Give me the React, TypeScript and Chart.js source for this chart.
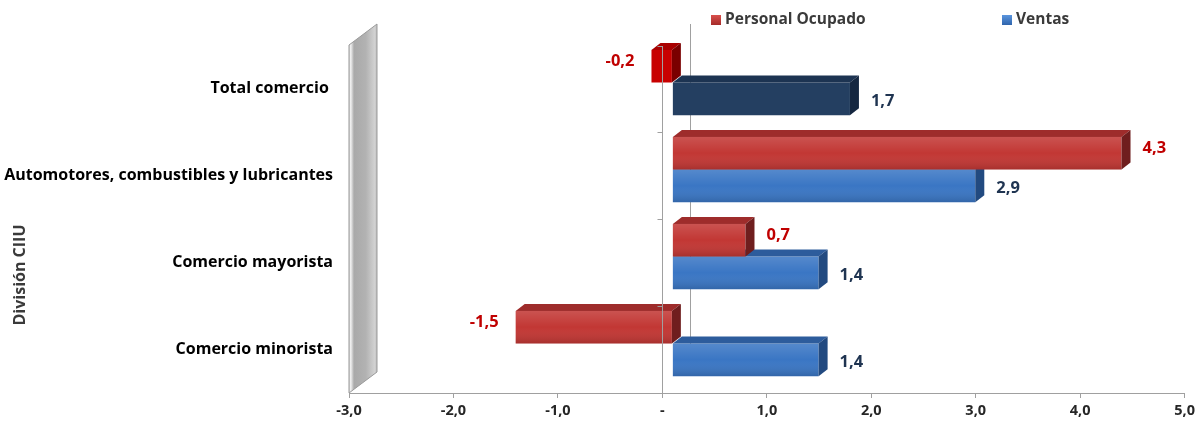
import React, { useEffect, useRef } from 'react';
import { Chart, registerables } from 'chart.js';

Chart.register(...registerables);

const categories = ['Total comercio ', 'Automotores, combustibles y lubricantes', 'Comercio mayorista', 'Comercio minorista'];
const seriesNames = ['Personal Ocupado', 'Ventas'];
const personalOcupado = [-0.2, 4.3, 0.7, -1.5];
const ventas = [1.7, 2.9, 1.4, 1.4];
const xTickValues = [-3, -2, -1, 0, 1, 2, 3, 4, 5];
const axisTitle = 'División CIIU';

const FONT = '"Open Sans", Lato, sans-serif';
const DX = 9;
const DY = -7;
const SHIFT_X = 10;
const SHIFT_Y = -6;

const palette = [
  {
    totalFront: '#C80000', totalTop: '#A80000', totalSide: '#7A0000',
    front: '#C23734', top: '#9E2C2B', side: '#6F1E1E', label: '#C00000', legendA: '#D9504C', legendB: '#A52B2A', labelDy: -5,
  },
  {
    totalFront: '#243F61', totalTop: '#1D3452', totalSide: '#152740',
    front: '#3A76C4', top: '#2D5C9C', side: '#224A80', label: '#1F3451', legendA: '#5A95DE', legendB: '#2F64AC', labelDy: 2,
  },
];

const fmt = (v: number) => (v === 0 ? '-' : v.toFixed(1).replace('.', ','));

function barGeom(el: any) {
  const p = el.getProps(['x', 'y', 'base', 'height'], true);
  const left = Math.min(p.x, p.base);
  const right = Math.max(p.x, p.base);
  const top = p.y - p.height / 2;
  const bottom = p.y + p.height / 2;
  return { left, right, top, bottom, cy: p.y, neg: p.x < p.base };
}

const bar3d = {
  id: 'bar3d',
  beforeDatasetsDraw(chart: any) {
    const { ctx, chartArea } = chart;
    const xs = chart.scales.x;
    const zero = xs.getPixelForValue(0);
    // side wall
    const wl = chartArea.left;
    const wdx = 28;
    const wdy = -21;
    ctx.save();
    const g = ctx.createLinearGradient(wl, 0, wl + wdx, 0);
    g.addColorStop(0, '#d0d0d0');
    g.addColorStop(0.06, '#f2f2f2');
    g.addColorStop(0.18, '#a9a9a9');
    g.addColorStop(0.6, '#b2b2b2');
    g.addColorStop(0.92, '#d2d2d2');
    g.addColorStop(1, '#bdbdbd');
    ctx.fillStyle = g;
    ctx.strokeStyle = '#999999';
    ctx.lineWidth = 1;
    ctx.beginPath();
    ctx.moveTo(wl, chartArea.top);
    ctx.lineTo(wl + wdx, chartArea.top + wdy);
    ctx.lineTo(wl + wdx, chartArea.bottom + wdy);
    ctx.lineTo(wl, chartArea.bottom);
    ctx.closePath();
    ctx.fill();
    ctx.stroke();
    // back zero line
    ctx.strokeStyle = '#a0a0a0';
    ctx.beginPath();
    ctx.moveTo(Math.round(zero + wdx) + 0.5, chartArea.top + wdy);
    ctx.lineTo(Math.round(zero + wdx) + 0.5, chartArea.bottom + wdy);
    ctx.stroke();
    ctx.restore();

    ctx.save();
    ctx.translate(SHIFT_X, SHIFT_Y);
  },
  afterDatasetDraw(chart: any, args: any) {
    const { ctx } = chart;
    const meta = args.meta;
    const pal = palette[args.index];
    meta.data.forEach((el: any, i: number) => {
      const b = barGeom(el);
      const isTotal = i === 0;
      // top face
      ctx.fillStyle = isTotal ? pal.totalTop : pal.top;
      ctx.beginPath();
      ctx.moveTo(b.left, b.top);
      ctx.lineTo(b.left + DX, b.top + DY);
      ctx.lineTo(b.right + DX, b.top + DY);
      ctx.lineTo(b.right, b.top);
      ctx.closePath();
      ctx.fill();
      // side face
      ctx.fillStyle = isTotal ? pal.totalSide : pal.side;
      ctx.beginPath();
      ctx.moveTo(b.right, b.top);
      ctx.lineTo(b.right + DX, b.top + DY);
      ctx.lineTo(b.right + DX, b.bottom + DY);
      ctx.lineTo(b.right, b.bottom);
      ctx.closePath();
      ctx.fill();
      // front shading
      if (!isTotal) {
        const gr = ctx.createLinearGradient(0, b.top, 0, b.bottom);
        gr.addColorStop(0, 'rgba(255,255,255,0.14)');
        gr.addColorStop(0.5, 'rgba(255,255,255,0)');
        gr.addColorStop(1, 'rgba(0,0,0,0.14)');
        ctx.fillStyle = gr;
        ctx.fillRect(b.left, b.top, b.right - b.left, b.bottom - b.top);
      }
    });
  },
  afterDatasetsDraw(chart: any) {
    const { ctx, chartArea } = chart;
    // value labels
    ctx.font = `bold 16.5px ${FONT}`;
    ctx.textBaseline = 'middle';
    chart.data.datasets.forEach((ds: any, di: number) => {
      const meta = chart.getDatasetMeta(di);
      meta.data.forEach((el: any, i: number) => {
        const b = barGeom(el);
        const v = ds.data[i];
        ctx.fillStyle = palette[di].label;
        const ly = b.cy + palette[di].labelDy;
        if (v < 0) {
          ctx.textAlign = 'right';
          ctx.fillText(fmt(v), b.left - 17, ly);
        } else {
          ctx.textAlign = 'left';
          ctx.fillText(fmt(v), b.right + DX + 12, ly);
        }
      });
    });
    ctx.restore();

    // front zero axis line and category ticks
    const xs = chart.scales.x;
    const ys = chart.scales.y;
    const zero = Math.round(xs.getPixelForValue(0)) + 0.5;
    ctx.save();
    ctx.strokeStyle = '#a0a0a0';
    ctx.lineWidth = 1;
    ctx.beginPath();
    ctx.moveTo(zero, chartArea.top + 1);
    ctx.lineTo(zero, chartArea.bottom);
    const n = chart.data.labels.length;
    for (let k = 0; k < n; k++) {
      const yb = Math.round(ys.getPixelForValue(k) - (chartArea.bottom - chartArea.top) / n / 2) + 0.5;
      ctx.moveTo(zero - 5, yb + (k === 0 ? 1 : 0));
      ctx.lineTo(zero, yb + (k === 0 ? 1 : 0));
    }
    ctx.stroke();
    ctx.restore();
  },
  afterDraw(chart: any) {
    const { ctx } = chart;
    ctx.save();
    // legend
    const legendPos = [711, 1002];
    ctx.font = `bold 15.5px ${FONT}`;
    ctx.textBaseline = 'middle';
    ctx.textAlign = 'left';
    chart.data.datasets.forEach((ds: any, di: number) => {
      const x = legendPos[di];
      const y = 20;
      const g = ctx.createLinearGradient(0, y - 5, 0, y + 5);
      g.addColorStop(0, palette[di].legendA);
      g.addColorStop(1, palette[di].legendB);
      ctx.fillStyle = g;
      ctx.fillRect(x, y - 5, 10, 10);
      ctx.fillStyle = '#3a3a3a';
      ctx.fillText(ds.label, x + 14, y);
    });
    // axis title
    ctx.font = `bold 16px ${FONT}`;
    ctx.translate(20, 275);
    ctx.rotate(-Math.PI / 2);
    ctx.textAlign = 'center';
    ctx.fillStyle = '#3a3a3a';
    ctx.fillText(axisTitle, 0, 0);
    ctx.restore();
  },
};

export default function App() {
  const ref = useRef<HTMLCanvasElement | null>(null);
  useEffect(() => {
    if (!ref.current) return;
    const chart = new Chart(ref.current, {
      type: 'bar',
      data: {
        labels: categories,
        datasets: [
          {
            label: seriesNames[0],
            data: personalOcupado,
            backgroundColor: personalOcupado.map((_, i) => (i === 0 ? palette[0].totalFront : palette[0].front)),
            borderWidth: 0,
            clip: false as any,
          },
          {
            label: seriesNames[1],
            data: ventas,
            backgroundColor: ventas.map((_, i) => (i === 0 ? palette[1].totalFront : palette[1].front)),
            borderWidth: 0,
            clip: false as any,
          },
        ],
      },
      options: {
        indexAxis: 'y',
        animation: false,
        responsive: false,
        maintainAspectRatio: false,
        layout: { padding: { top: 45, right: 13, left: 0, bottom: 0 } },
        datasets: { bar: { categoryPercentage: 0.75, barPercentage: 1 } },
        plugins: { legend: { display: false }, tooltip: { enabled: false }, title: { display: false } },
        scales: {
          x: {
            type: 'linear',
            min: -3,
            max: 5,
            afterBuildTicks: (scale: any) => {
              scale.ticks = xTickValues.map((v) => ({ value: v }));
            },
            afterFit: (scale: any) => {
              scale.height = 31;
            },
            grid: { drawOnChartArea: false, drawTicks: true, tickLength: 5, color: '#a0a0a0', tickColor: '#a0a0a0' },
            border: { display: true, color: '#a0a0a0' },
            ticks: {
              padding: 4,
              color: '#262626',
              font: { family: FONT, size: 14.5, weight: 'bold' },
              callback: (v: any) => fmt(Number(v)),
              maxRotation: 0,
            },
          },
          y: {
            afterFit: (scale: any) => {
              scale.width = 349;
            },
            grid: { display: false, drawTicks: false },
            border: { display: false },
            ticks: {
              padding: 16,
              color: '#000000',
              font: { family: FONT, size: 16, weight: 'bold' },
            },
          },
        },
      },
      plugins: [bar3d],
    });
    return () => chart.destroy();
  }, []);
  return (
    <div style={{ position: 'absolute', left: 0, top: 0, width: 1199, height: 424, background: '#fff' }}>
      <canvas ref={ref} width={1199} height={424} style={{ width: 1199, height: 424 }} />
    </div>
  );
}
